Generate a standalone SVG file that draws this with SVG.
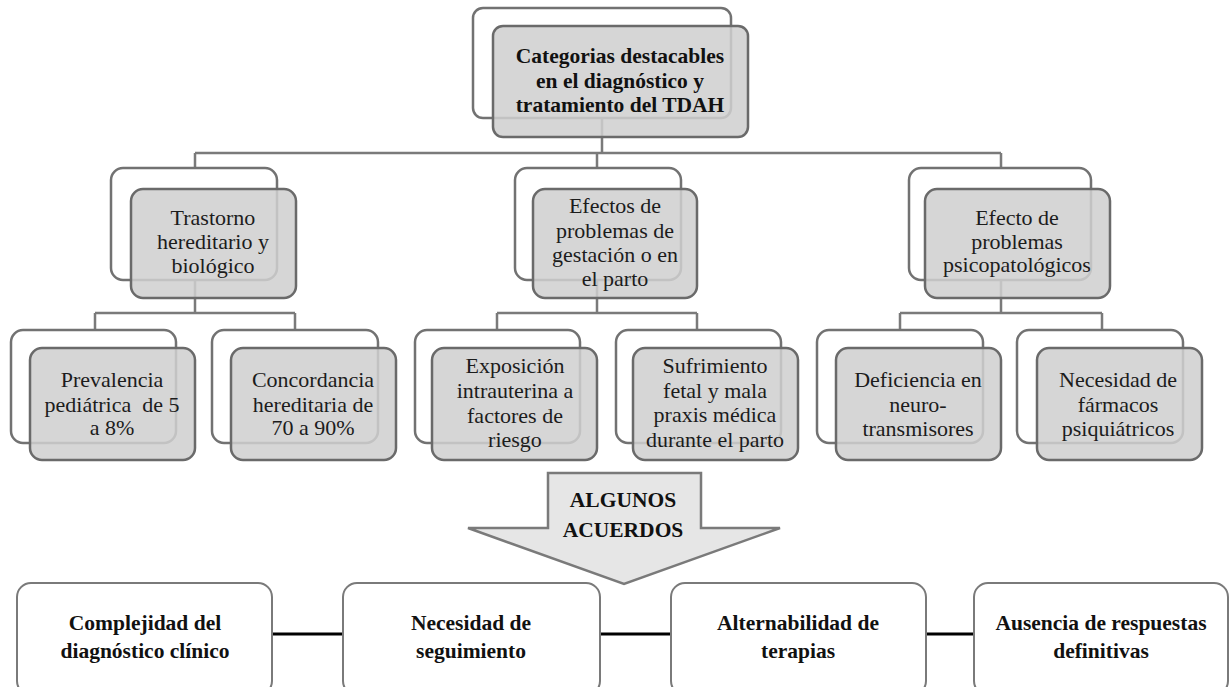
<svg xmlns="http://www.w3.org/2000/svg" width="1230" height="687" viewBox="0 0 1230 687">
<style>
  .back { fill: #ffffff; stroke: #727272; stroke-width: 2.5; }
  .front { fill: #cfcfcf; fill-opacity: 0.86; stroke: #6a6a6a; stroke-width: 2.5; }
  .conn { fill: none; stroke: #7a7a7a; stroke-width: 2.5; }
  .bconn { fill: none; stroke: #000000; stroke-width: 3; }
  .bbox { fill: #ffffff; stroke: #7a7a7a; stroke-width: 2; }
  .t { font-family: "Liberation Serif", "Times New Roman", serif; font-size: 22px; fill: #1c1c1c; text-anchor: middle; }
  .tb { font-family: "Liberation Serif", "Times New Roman", serif; font-size: 21.5px; font-weight: bold; fill: #111111; text-anchor: middle; }
  .arrow { fill: #e6e6e6; stroke: #7a7a7a; stroke-width: 2.5; stroke-linejoin: miter; }
</style>
<rect width="1230" height="687" fill="#ffffff"/>

<g id="connectors">
  <path class="conn" d="M602,118 V153 M195,153 H1001 M195,153 V168 M597,153 V168 M1001,153 V168"/>
  <path class="conn" d="M195,280 V313 M95,313 H295 M95,313 V330 M295,313 V330"/>
  <path class="conn" d="M597,280 V313 M497,313 H697 M497,313 V330 M697,313 V330"/>
  <path class="conn" d="M1001,280 V313 M900,313 H1102 M900,313 V330 M1102,313 V330"/>
  <path class="bconn" d="M272,634 H343 M600,634 H671 M926,634 H974"/>
</g>

<g id="root">
  <rect class="back" x="473" y="8" width="258" height="110" rx="10"/>
  <rect class="front" x="493" y="26" width="255" height="111" rx="10"/>
  <text class="tb" x="620" y="63">Categorias destacables</text>
  <text class="tb" x="620" y="88">en el diagnóstico y</text>
  <text class="tb" x="620" y="112">tratamiento del TDAH</text>
</g>

<g id="trastorno">
  <rect class="back" x="111" y="168" width="166" height="112" rx="12"/>
  <rect class="front" x="131" y="189" width="165" height="109" rx="12"/>
  <text class="t" x="213" y="225">Trastorno</text>
  <text class="t" x="213" y="249">hereditario y</text>
  <text class="t" x="213" y="273">biológico</text>
</g>

<g id="efectos-gestacion">
  <rect class="back" x="515" y="168" width="166" height="112" rx="12"/>
  <rect class="front" x="533" y="189" width="164" height="109" rx="12"/>
  <text class="t" x="615" y="213">Efectos de</text>
  <text class="t" x="615" y="238">problemas de</text>
  <text class="t" x="615" y="262">gestación o en</text>
  <text class="t" x="615" y="286">el parto</text>
</g>

<g id="efecto-psico">
  <rect class="back" x="909" y="168" width="182" height="112" rx="12"/>
  <rect class="front" x="925" y="189" width="185" height="109" rx="12"/>
  <text class="t" x="1017" y="225">Efecto de</text>
  <text class="t" x="1017" y="249">problemas</text>
  <text class="t" x="1017" y="272">psicopatológicos</text>
</g>

<g id="prevalencia">
  <rect class="back" x="11" y="330" width="165" height="113" rx="12"/>
  <rect class="front" x="30" y="348" width="165" height="112" rx="12"/>
  <text class="t" x="112" y="387">Prevalencia</text>
  <text class="t" x="112" y="412" xml:space="preserve">pediátrica  de 5</text>
  <text class="t" x="112" y="435">a 8%</text>
</g>

<g id="concordancia">
  <rect class="back" x="212" y="330" width="166" height="113" rx="12"/>
  <rect class="front" x="231" y="348" width="165" height="112" rx="12"/>
  <text class="t" x="313" y="387">Concordancia</text>
  <text class="t" x="313" y="412">hereditaria de</text>
  <text class="t" x="313" y="435">70 a 90%</text>
</g>

<g id="exposicion">
  <rect class="back" x="415" y="330" width="165" height="113" rx="12"/>
  <rect class="front" x="432" y="348" width="165" height="112" rx="12"/>
  <text class="t" x="515" y="373">Exposición</text>
  <text class="t" x="515" y="398">intrauterina a</text>
  <text class="t" x="515" y="423">factores de</text>
  <text class="t" x="515" y="447">riesgo</text>
</g>

<g id="sufrimiento">
  <rect class="back" x="616" y="330" width="165" height="113" rx="12"/>
  <rect class="front" x="633" y="348" width="165" height="112" rx="12"/>
  <text class="t" x="715" y="373">Sufrimiento</text>
  <text class="t" x="715" y="398">fetal y mala</text>
  <text class="t" x="715" y="422">praxis médica</text>
  <text class="t" x="715" y="447">durante el parto</text>
</g>

<g id="deficiencia">
  <rect class="back" x="817" y="330" width="166" height="113" rx="12"/>
  <rect class="front" x="836" y="348" width="165" height="112" rx="12"/>
  <text class="t" x="918" y="387">Deficiencia en</text>
  <text class="t" x="918" y="412">neuro-</text>
  <text class="t" x="918" y="436">transmisores</text>
</g>

<g id="farmacos">
  <rect class="back" x="1017" y="330" width="166" height="113" rx="12"/>
  <rect class="front" x="1037" y="348" width="165" height="112" rx="12"/>
  <text class="t" x="1118" y="387">Necesidad de</text>
  <text class="t" x="1118" y="412">fármacos</text>
  <text class="t" x="1118" y="436">psiquiátricos</text>
</g>

<g id="acuerdos-arrow">
  <polygon class="arrow" points="548,473 701,473 701,528 780,528 624,584 468,528 548,528"/>
  <text class="tb" x="623" y="507">ALGUNOS</text>
  <text class="tb" x="623" y="537">ACUERDOS</text>
</g>

<g id="complejidad">
  <rect class="bbox" x="17" y="583" width="255" height="112" rx="14"/>
  <text class="tb" x="145" y="630">Complejidad del</text>
  <text class="tb" x="145" y="658">diagnóstico clínico</text>
</g>

<g id="seguimiento">
  <rect class="bbox" x="343" y="583" width="257" height="112" rx="14"/>
  <text class="tb" x="471" y="630">Necesidad de</text>
  <text class="tb" x="471" y="658">seguimiento</text>
</g>

<g id="alternabilidad">
  <rect class="bbox" x="671" y="583" width="255" height="112" rx="14"/>
  <text class="tb" x="798" y="630">Alternabilidad de</text>
  <text class="tb" x="798" y="658">terapias</text>
</g>

<g id="ausencia">
  <rect class="bbox" x="974" y="583" width="254" height="112" rx="14"/>
  <text class="tb" x="1101" y="630">Ausencia de respuestas</text>
  <text class="tb" x="1101" y="658">definitivas</text>
</g>
</svg>
